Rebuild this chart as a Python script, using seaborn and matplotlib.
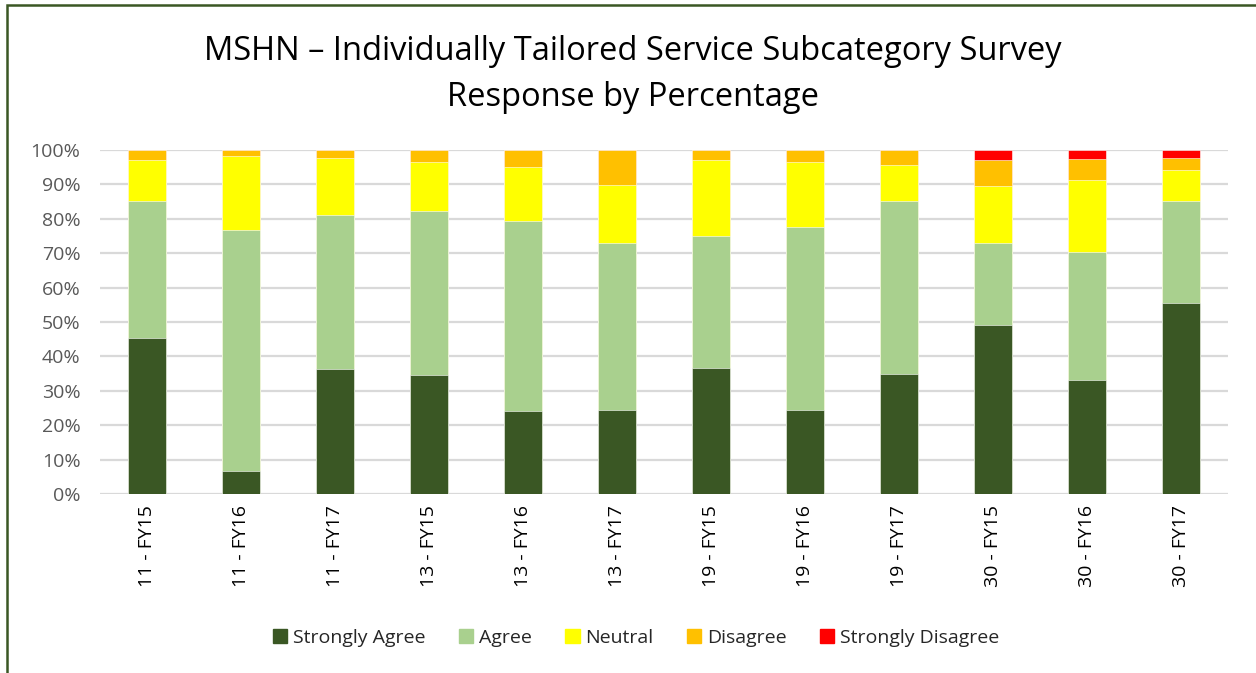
import pandas as pd
import matplotlib
matplotlib.use('Agg')
import matplotlib.pyplot as plt
import matplotlib.patches as mpatches
import seaborn as sns

# survey response shares (%) per provider / fiscal year
groups = ["11 - FY15", "11 - FY16", "11 - FY17", "13 - FY15", "13 - FY16", "13 - FY17",
          "19 - FY15", "19 - FY16", "19 - FY17", "30 - FY15", "30 - FY16", "30 - FY17"]
strongly_agree = [45.4, 6.8, 36.2, 34.5, 24.1, 24.5, 36.5, 24.5, 35.0, 49.1, 33.1, 55.4]
agree = [39.8, 69.9, 44.9, 47.7, 55.3, 48.5, 38.5, 53.1, 50.1, 23.9, 37.2, 29.7]
neutral = [11.9, 21.6, 16.6, 14.3, 15.6, 16.9, 22.1, 18.9, 10.4, 16.5, 21.1, 9.2]
disagree = [2.9, 1.7, 2.3, 3.5, 5.0, 10.1, 2.9, 3.5, 4.5, 7.5, 6.1, 3.5]
strongly_disagree = [0, 0, 0, 0, 0, 0, 0, 0, 0, 3.0, 2.5, 2.2]

labels = ["Strongly Agree", "Agree", "Neutral", "Disagree", "Strongly Disagree"]
colors = ["#3A5724", "#A9D08E", "#FFFF00", "#FFC000", "#FF0000"]

df = pd.DataFrame({
    "group": groups,
    "Strongly Agree": strongly_agree,
    "Agree": agree,
    "Neutral": neutral,
    "Disagree": disagree,
    "Strongly Disagree": strongly_disagree,
})
cum = df[labels].cumsum(axis=1)

sns.set_theme(style="white")
plt.rcParams['font.family'] = ['Open Sans', 'DejaVu Sans']

fig = plt.figure(figsize=(12.56, 6.73), dpi=100)
ax = fig.add_axes([100 / 1256, 1 - 494 / 673, 1128 / 1256, 344 / 673])

# stacked look: draw cumulative totals from the top layer down
for lab, col in reversed(list(zip(labels, colors))):
    sns.barplot(x=df["group"], y=cum[lab], color=col, saturation=1, width=0.4, ax=ax,
                edgecolor="white", linewidth=0.4, zorder=3)

ax.set_ylim(0, 100)
ax.set_xlim(-0.5, 11.5)
ax.set_yticks(range(0, 101, 10))
ax.set_yticklabels([f"{v}%" for v in range(0, 101, 10)], fontsize=14, color="#595959")
ax.tick_params(axis="x", labelrotation=90, labelsize=14, pad=8, length=0)
ax.tick_params(axis="y", pad=14, length=0)
for t in ax.get_xticklabels():
    t.set_color("black")
ax.set_xlabel("")
ax.set_ylabel("")
ax.yaxis.grid(True, color="#D9D9D9", linewidth=1.6, zorder=0)
ax.set_axisbelow(True)
for s in ax.spines.values():
    s.set_visible(False)

fig.text(633 / 1256, 1 - 52 / 673, "MSHN \u2013 Individually Tailored Service Subcategory Survey",
         ha="center", va="center", fontsize=23.5, color="black")
fig.text(633 / 1256, 1 - 97 / 673, "Response by Percentage",
         ha="center", va="center", fontsize=23.5, color="black")

handles = [mpatches.Patch(color=c, label=l) for l, c in zip(labels, colors)]
fig.legend(handles=handles, loc="center", bbox_to_anchor=(636 / 1256, 1 - 638 / 673),
           ncol=5, frameon=False, fontsize=14, handlelength=0.75, handleheight=0.75,
           handletextpad=0.3, columnspacing=1.7)

# dark green frame around the chart area (extends past right/bottom edges)
frame = mpatches.Rectangle((7 / 1256, -0.05), 1.1, 1 - 5 / 673 + 0.05, transform=fig.transFigure,
                           fill=False, edgecolor="#3A5724", linewidth=1.8, clip_on=False)
fig.patches.append(frame)

fig.savefig("out.png", dpi=100)
